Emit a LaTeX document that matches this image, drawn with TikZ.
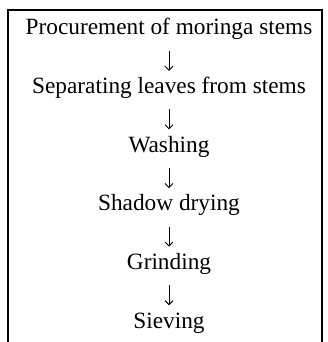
\documentclass[tikz,border=0pt]{standalone}
\usepackage{fontspec}
\setmainfont{Liberation Serif}
\usetikzlibrary{arrows.meta}

\begin{document}
\begin{tikzpicture}[x=1pt,y=-1pt]
        \useasboundingbox (0,0) rectangle (328,342);
        \draw[line width=2pt] (7.5,342) |- (322,10.5) -- (322,342);
        \begin{scope}[every node/.style={inner sep=0pt, anchor=base, text height=16pt, text depth=6pt, font=\fontsize{23.3}{28}\selectfont}, every path/.style={line width=0.9pt, shorten <=9.3pt, shorten >=6.3pt, -{Straight Barb[length=4pt,width=8pt]}}]
                \node (P) at (169,35) {Procurement of moringa stems};
                \node (S) at (169,93.6) {Separating leaves from stems};
                \node (W) at (169,152.2) {Washing};
                \node (D) at (169,210.8) {Shadow drying};
                \node (G) at (169,269.4) {Grinding};
                \node (V) at (169,328) {Sieving};

                \path (P) edge (S);
                \path (S) edge (W);
                \path (W) edge (D);
                \path (D) edge (G);
                \path (G) edge (V);
        \end{scope}
\end{tikzpicture}
\end{document}
